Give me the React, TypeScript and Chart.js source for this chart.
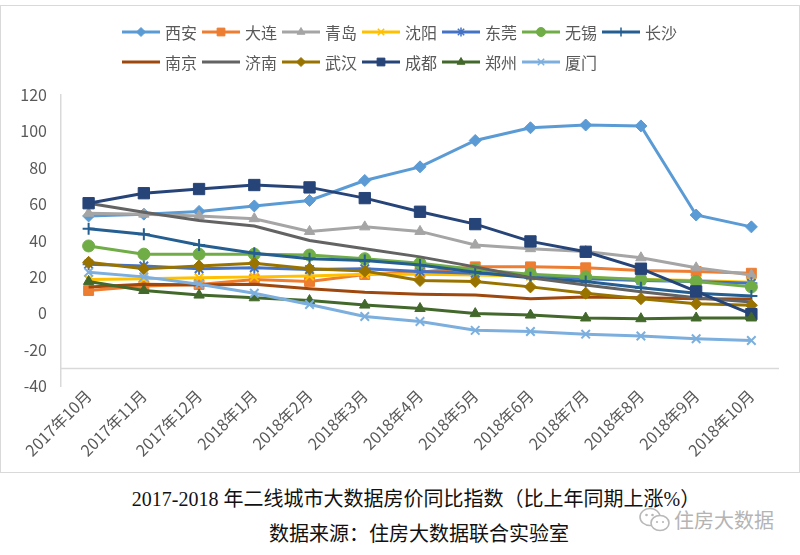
import React, { useEffect, useRef } from 'react';
import { Chart, registerables } from 'chart.js';
import { drawPoint } from 'chart.js/helpers';

Chart.register(...registerables);

// ---- data ----
const categories = [
  '2017年10月', '2017年11月', '2017年12月', '2018年1月', '2018年2月', '2018年3月', '2018年4月',
  '2018年5月', '2018年6月', '2018年7月', '2018年8月', '2018年9月', '2018年10月',
];
const cityNames = ['西安', '大连', '青岛', '沈阳', '东莞', '无锡', '长沙', '南京', '济南', '武汉', '成都', '郑州', '厦门'];

const xian = [53.5, 54.5, 56, 59, 62, 73, 80.5, 95, 102, 103.5, 103, 54, 47.5];
const dalian = [12.5, 15, 15.8, 18.5, 17.5, 21.3, 22.5, 25.5, 25.5, 25, 23.5, 23, 22];
const qingdao = [55, 54.5, 53.5, 52, 45, 47.5, 45, 37.5, 35.5, 34, 30.5, 25, 21];
const shenyang = [18.5, 19, 19.5, 20, 20.5, 21.5, 21.5, 21, 20.5, 19.5, 18.5, 18, 17];
const dongguan = [27, 26, 24.5, 25, 24, 24.5, 23, 22, 21, 19, 18, 17.5, 16.5];
const wuxi = [37, 32.5, 32.5, 32.5, 32, 30, 27.5, 24, 21.5, 20, 18.5, 17.5, 14.5];
const changsha = [46.5, 43.5, 37.5, 33, 30, 29, 26.5, 22.5, 19.5, 17.5, 14, 11, 9.5];
const nanjing = [14.5, 16, 15.5, 16, 13.5, 11.5, 10.5, 10, 8, 9, 8.5, 8, 7.8];
const jinan = [60.5, 55.5, 51, 48, 40, 35.5, 31, 25.5, 19.5, 15.5, 11.8, 8.5, 6.2];
const wuhan = [28, 24.5, 26, 27.5, 24.5, 23.2, 18, 17.5, 14.5, 11, 8, 5.2, 4.4];
const chengdu = [60.5, 66, 68.3, 70.5, 69.2, 63.3, 55.8, 49, 39.5, 33.8, 24.5, 12, -0.5];
const zhengzhou = [17.5, 12.5, 10, 8.5, 7, 4.5, 2.6, -0.2, -1, -2.6, -3, -2.6, -2.6];
const xiamen = [22.5, 20, 16, 11, 4.8, -1.8, -4.5, -9.4, -10, -11.5, -12.5, -14, -15];

const seriesValues = [xian, dalian, qingdao, shenyang, dongguan, wuxi, changsha, nanjing, jinan, wuhan, chengdu, zhengzhou, xiamen];

const yTickMin = -40;
const yTickMax = 120;
const yTickStep = 20;
const axisCrossValue = -30;

const titleText = '2017-2018 年二线城市大数据房价同比指数（比上年同期上涨%）';
const sourceText = '数据来源：住房大数据联合实验室';
const watermarkText = '住房大数据';

// ---- styles ----
const seriesStyles = [
  { color: '#5B9BD5', point: 'rectRot', r: 6 },
  { color: '#ED7D31', point: 'rect', r: 7 },
  { color: '#A5A5A5', point: 'triangle', r: 6 },
  { color: '#FFC000', point: 'crossRot', r: 6 },
  { color: '#4472C4', point: 'star', r: 6 },
  { color: '#70AD47', point: 'circle', r: 6 },
  { color: '#255E91', point: 'cross', r: 6 },
  { color: '#9E480E', point: 'none', r: 0 },
  { color: '#636363', point: 'none', r: 0 },
  { color: '#997300', point: 'rectRot', r: 6 },
  { color: '#264478', point: 'rect', r: 8 },
  { color: '#43682B', point: 'triangle', r: 6 },
  { color: '#7CAFDD', point: 'crossRot', r: 6 },
];

const FONT = '"Noto Sans CJK SC", "Liberation Sans", sans-serif';

const isStrokeOnly = (p: string) => p === 'cross' || p === 'crossRot' || p === 'star';

const legendPlugin = {
  id: 'excelLegend',
  afterDraw(chart: any) {
    const ctx = chart.ctx as CanvasRenderingContext2D;
    const rows = [[0, 1, 2, 3, 4, 5, 6], [7, 8, 9, 10, 11, 12]];
    ctx.save();
    ctx.font = `16px ${FONT}`;
    ctx.textBaseline = 'middle';
    ctx.textAlign = 'left';
    rows.forEach((row, r) => {
      let x = 122;
      const y = 27 + r * 30;
      row.forEach((i) => {
        const st = seriesStyles[i];
        ctx.strokeStyle = st.color;
        ctx.lineWidth = 3;
        ctx.beginPath();
        ctx.moveTo(x, y);
        ctx.lineTo(x + 38, y);
        ctx.stroke();
        if (st.r > 0) {
          ctx.fillStyle = st.color;
          ctx.strokeStyle = st.color;
          ctx.lineWidth = isStrokeOnly(st.point) ? 1.5 : 1;
          drawPoint(ctx, { pointStyle: st.point, radius: st.point === 'rect' ? 5.5 : 4.5, rotation: 0, borderWidth: ctx.lineWidth } as any, x + 19, y);
        }
        ctx.fillStyle = '#595959';
        ctx.fillText(cityNames[i], x + 43, y + 1);
        x += 43 + ctx.measureText(cityNames[i]).width + 5;
      });
    });
    ctx.restore();
  },
};

const crossAxisPlugin = {
  id: 'crossAxis',
  beforeDatasetsDraw(chart: any) {
    const { ctx, chartArea, scales } = chart;
    const y = Math.round(scales.y.getPixelForValue(axisCrossValue)) + 0.5;
    ctx.save();
    ctx.strokeStyle = '#d9d9d9';
    ctx.lineWidth = 1.5;
    ctx.beginPath();
    ctx.moveTo(chartArea.left, y);
    ctx.lineTo(chartArea.right, y);
    ctx.stroke();
    ctx.restore();
  },
};

export default function App() {
  const canvasRef = useRef<HTMLCanvasElement | null>(null);

  useEffect(() => {
    if (!canvasRef.current) return;
    const datasets = seriesValues.map((vals, i) => {
      const st = seriesStyles[i];
      return {
        label: cityNames[i],
        data: vals,
        borderColor: st.color,
        backgroundColor: st.color,
        pointBackgroundColor: st.color,
        pointBorderColor: st.color,
        pointStyle: st.r > 0 ? st.point : false,
        pointRadius: st.r,
        pointHoverRadius: st.r,
        pointBorderWidth: isStrokeOnly(st.point) ? 2 : 1,
        borderWidth: 3,
        tension: 0,
        fill: false,
        order: seriesValues.length - i,
      };
    });
    const chart = new Chart(canvasRef.current, {
      type: 'line',
      data: { labels: categories, datasets: datasets as any },
      options: {
        responsive: false,
        animation: false,
        events: [],
        layout: { padding: { top: 90, left: 0, right: 21, bottom: 0 } },
        plugins: {
          legend: { display: false },
          tooltip: { enabled: false },
          title: { display: false },
        },
        scales: {
          x: {
            type: 'category',
            offset: true,
            grid: { display: false, drawTicks: false },
            border: { display: false },
            ticks: {
              autoSkip: false,
              maxRotation: 45,
              minRotation: 45,
              padding: 0,
              color: '#595959',
              font: { family: FONT, size: 16 },
            },
            afterFit: (s: any) => { s.height = 87; },
          },
          y: {
            min: yTickMin,
            max: yTickMax,
            grid: { display: false, drawTicks: false },
            border: { display: true, color: '#d9d9d9', width: 1.5 },
            ticks: {
              stepSize: yTickStep,
              padding: 14,
              color: '#595959',
              font: { family: FONT, size: 16 },
            },
            afterFit: (s: any) => { s.width = 61; },
          },
        },
      },
      plugins: [crossAxisPlugin, legendPlugin],
    });
    return () => chart.destroy();
  }, []);

  return (
    <div style={{ position: 'absolute', left: 0, top: 0, width: 800, height: 555, background: '#fff', overflow: 'hidden' }}>
      <canvas ref={canvasRef} width={800} height={468} style={{ position: 'absolute', left: 0, top: 5 }} />
      <div style={{ position: 'absolute', left: 0, top: 5, width: 800, height: 468, boxSizing: 'border-box', border: '1px solid #d9d9d9', pointerEvents: 'none' }} />
      <div style={{ position: 'absolute', left: 0, top: 486, width: 832, textAlign: 'center', fontFamily: '"Liberation Serif", "Noto Sans CJK SC", serif', fontSize: 20, lineHeight: '26px', color: '#111', whiteSpace: 'nowrap' }}>{titleText}</div>
      <div style={{ position: 'absolute', left: 0, top: 521, width: 838, textAlign: 'center', fontFamily: '"Liberation Serif", "Noto Sans CJK SC", serif', fontSize: 20, lineHeight: '26px', color: '#111', whiteSpace: 'nowrap' }}>{sourceText}</div>
      <svg width="34" height="28" viewBox="0 0 34 28" style={{ position: 'absolute', left: 638, top: 506 }}>
        <ellipse cx="12" cy="11" rx="10" ry="8.5" fill="none" stroke="#b8b8b8" strokeWidth="1.6" />
        <ellipse cx="22" cy="17" rx="9" ry="7.5" fill="#fff" stroke="#b8b8b8" strokeWidth="1.6" />
        <circle cx="8.5" cy="9" r="1.3" fill="#b8b8b8" />
        <circle cx="14.5" cy="9" r="1.3" fill="#b8b8b8" />
        <circle cx="19" cy="16" r="1.1" fill="#b8b8b8" />
        <circle cx="25" cy="16" r="1.1" fill="#b8b8b8" />
      </svg>
      <div style={{ position: 'absolute', left: 674, top: 507, fontFamily: '"Noto Sans CJK SC", sans-serif', fontSize: 20, lineHeight: '26px', color: '#b4b4b4', whiteSpace: 'nowrap' }}>{watermarkText}</div>
    </div>
  );
}
